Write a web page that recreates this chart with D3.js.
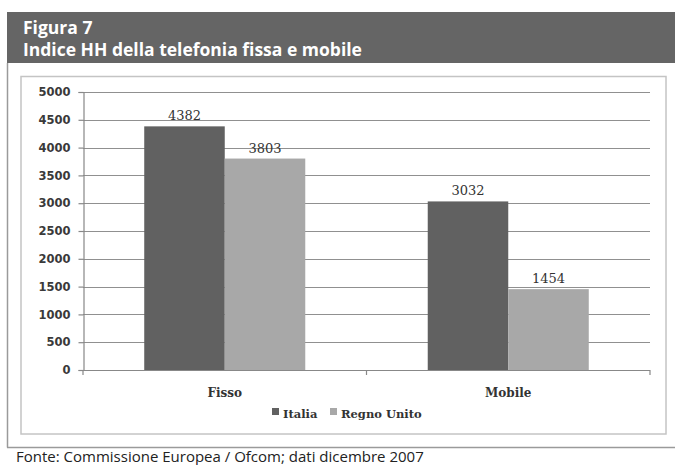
<!DOCTYPE html>
<html>
<head>
<meta charset="utf-8">
<script src="https://cdn.jsdelivr.net/npm/d3@7"></script>
<style>
  html, body { margin: 0; padding: 0; background: #fff; }
  svg { display: block; }
</style>
</head>
<body>
<svg id="chart" width="675" height="465"></svg>
<script>
// Indice HH: telefonia fissa e mobile, Italia vs Regno Unito (dicembre 2007)
const categories = ["Fisso", "Mobile"];
const seriesNames = ["Italia", "Regno Unito"];
const italia = [4382, 3032];
const regnoUnito = [3803, 1454];
const yTicks = [0, 500, 1000, 1500, 2000, 2500, 3000, 3500, 4000, 4500, 5000];

const seriesValues = [italia, regnoUnito];
const colors = ["#616161", "#a8a8a8"];

const svg = d3.select("#chart");

// Header band with the figure title
svg.append("rect").attr("x", 7).attr("y", 12).attr("width", 668).attr("height", 51)
  .attr("fill", "#656565");
svg.append("text").attr("x", 23).attr("y", 34)
  .attr("font-family", "Open Sans").attr("font-weight", "bold").attr("font-size", 17.5)
  .attr("fill", "#fff").text("Figura 7");
svg.append("text").attr("x", 23).attr("y", 56)
  .attr("font-family", "Open Sans").attr("font-weight", "bold").attr("font-size", 17.5)
  .attr("fill", "#fff").text("Indice HH della telefonia fissa e mobile");

// Outer frame (left and bottom rules)
svg.append("line").attr("x1", 7.5).attr("x2", 7.5).attr("y1", 63).attr("y2", 447.5)
  .attr("stroke", "#9a9a9a").attr("stroke-width", 1.5);
svg.append("line").attr("x1", 7).attr("x2", 675).attr("y1", 447.5).attr("y2", 447.5)
  .attr("stroke", "#9a9a9a").attr("stroke-width", 1.5);

// Inner chart box
svg.append("rect").attr("x", 21).attr("y", 76.5).attr("width", 645).attr("height", 357.5)
  .attr("fill", "none").attr("stroke", "#c4c4c4").attr("stroke-width", 1.5);

// Scales
const plot = { left: 83, right: 650, top: 92, bottom: 370 };
const y = d3.scaleLinear().domain([0, 5000]).range([plot.bottom, plot.top]);
const x0 = d3.scaleBand().domain(categories).range([plot.left, plot.right])
  .paddingInner(0.432).paddingOuter(0.216);
const x1 = d3.scaleBand().domain(seriesNames).range([0, x0.bandwidth()]);
const step = x0.step();

// Gridlines
svg.append("g").selectAll("line").data(yTicks.filter(d => d > 0)).join("line")
  .attr("x1", plot.left).attr("x2", plot.right)
  .attr("y1", d => Math.round(y(d)) + 0.5).attr("y2", d => Math.round(y(d)) + 0.5)
  .attr("stroke", "#909090").attr("stroke-width", 1.2);

// Y axis
const yAxis = d3.axisLeft(y).tickValues(yTicks).tickFormat(d3.format("d"))
  .tickSize(5).tickPadding(8);
const gy = svg.append("g").attr("transform", `translate(${plot.left + 0.5},0)`).call(yAxis);
gy.select(".domain").attr("stroke", "#888").attr("stroke-width", 1.2);
gy.selectAll(".tick line").attr("stroke", "#888").attr("stroke-width", 1.2);
gy.selectAll(".tick text")
  .attr("font-family", "DejaVu Sans").attr("font-weight", "bold").attr("font-size", 11.5)
  .attr("fill", "#3a3a3a");

// Bars
const groups = svg.append("g").selectAll("g").data(categories).join("g")
  .attr("transform", c => `translate(${x0(c)},0)`);
groups.selectAll("rect")
  .data((c, i) => seriesNames.map((s, j) => ({ s, j, v: seriesValues[j][i] })))
  .join("rect")
  .attr("x", d => x1(d.s)).attr("width", x1.bandwidth())
  .attr("y", d => y(d.v)).attr("height", d => y(0) - y(d.v))
  .attr("fill", d => colors[d.j]);

// Value labels
groups.selectAll("text.val")
  .data((c, i) => seriesNames.map((s, j) => ({ s, j, v: seriesValues[j][i] })))
  .join("text").attr("class", "val")
  .attr("x", d => x1(d.s) + x1.bandwidth() / 2).attr("y", d => y(d.v) - 6)
  .attr("text-anchor", "middle")
  .attr("font-family", "DejaVu Serif").attr("font-size", 13).attr("fill", "#333")
  .text(d => d.v);

// X axis baseline with category dividers
const xb = svg.append("g");
xb.append("line").attr("x1", plot.left).attr("x2", plot.right)
  .attr("y1", plot.bottom + 0.5).attr("y2", plot.bottom + 0.5)
  .attr("stroke", "#888").attr("stroke-width", 1.2);
xb.selectAll("line.div").data(d3.range(categories.length + 1)).join("line").attr("class", "div")
  .attr("x1", i => plot.left + i * step).attr("x2", i => plot.left + i * step)
  .attr("y1", plot.bottom).attr("y2", plot.bottom + 5)
  .attr("stroke", "#888").attr("stroke-width", 1.2);
xb.selectAll("text").data(categories).join("text")
  .attr("x", c => x0(c) + x0.bandwidth() / 2).attr("y", 397)
  .attr("text-anchor", "middle")
  .attr("font-family", "DejaVu Serif").attr("font-weight", "bold").attr("font-size", 12)
  .attr("fill", "#333").text(c => c);

// Legend
const legendPos = [272, 330];
const legend = svg.append("g").selectAll("g").data(seriesNames).join("g")
  .attr("transform", (d, i) => `translate(${legendPos[i]},0)`);
legend.append("rect").attr("x", 0).attr("y", 408).attr("width", 7).attr("height", 7)
  .attr("fill", (d, i) => colors[i]);
legend.append("text").attr("x", 11).attr("y", 418)
  .attr("font-family", "DejaVu Serif").attr("font-weight", "bold").attr("font-size", 11.5)
  .attr("fill", "#333").text(d => d);

// Source note
svg.append("text").attr("x", 16).attr("y", 462)
  .attr("font-family", "Open Sans").attr("font-size", 15).attr("fill", "#222")
  .text("Fonte: Commissione Europea / Ofcom; dati dicembre 2007");
</script>
</body>
</html>
